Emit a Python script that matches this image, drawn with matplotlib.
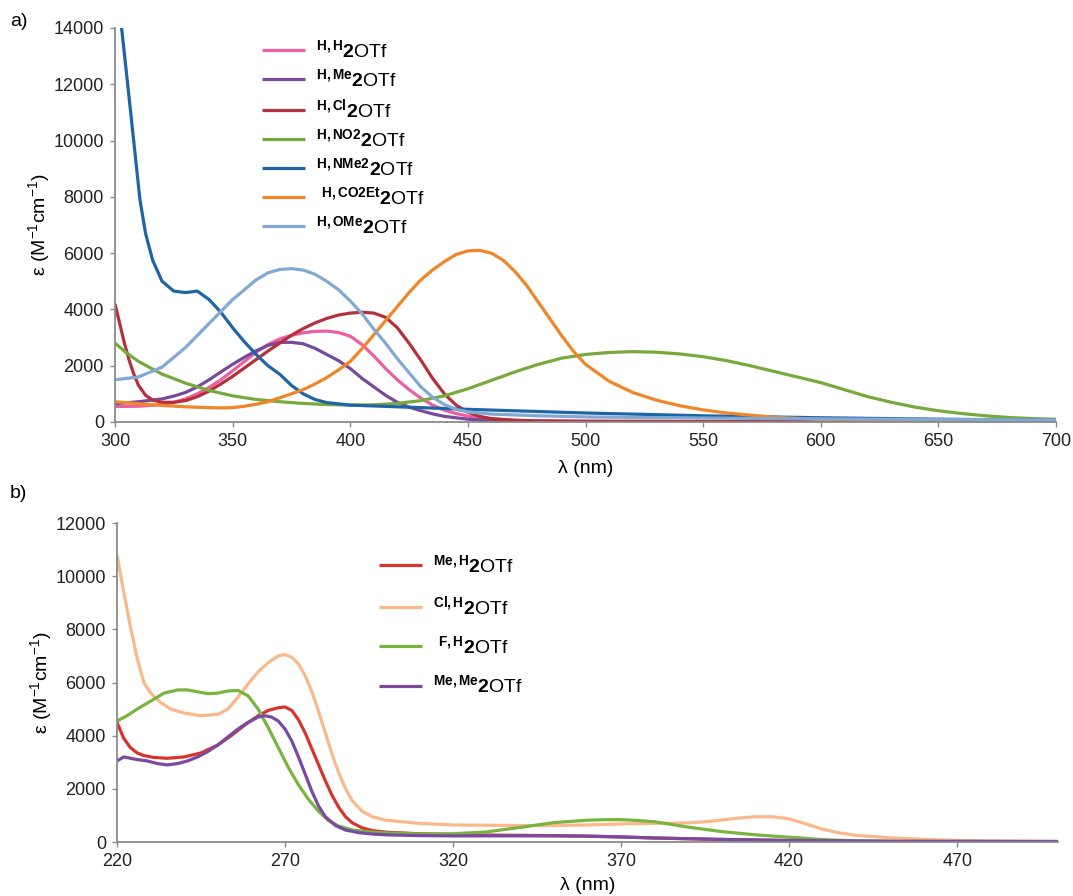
import matplotlib
matplotlib.use("Agg")
import matplotlib.pyplot as plt

plt.rcParams['font.family'] = ['Liberation Sans', 'DejaVu Sans']
plt.rcParams['mathtext.fontset'] = 'custom'
plt.rcParams['mathtext.rm'] = 'Liberation Sans'
plt.rcParams['mathtext.it'] = 'Liberation Sans:italic'
plt.rcParams['mathtext.bf'] = 'Liberation Sans:bold'

# ---- panel a data (wavelength nm, epsilon M-1 cm-1) ----
hh_x = [300, 310, 320, 325, 330, 335, 340, 345, 350, 355, 360, 365, 370, 375, 380, 385, 390, 395,
        400, 405, 410, 415, 420, 425, 430, 435, 440, 445, 450, 460, 470, 480, 500, 550, 600, 700]
hh_y = [550, 560, 620, 700, 820, 1000, 1230, 1500, 1820, 2150, 2480, 2750, 2950, 3080, 3170, 3220, 3230, 3180,
        3050, 2750, 2350, 1900, 1500, 1150, 850, 600, 420, 300, 210, 110, 60, 40, 25, 15, 10, 10]

hme_x = [300, 310, 320, 325, 330, 335, 340, 345, 350, 355, 360, 365, 370, 375, 380, 385, 390, 395,
         400, 405, 410, 415, 420, 425, 430, 435, 440, 450, 460, 480, 500, 600, 700]
hme_y = [650, 720, 820, 920, 1050, 1250, 1500, 1780, 2050, 2300, 2530, 2720, 2830, 2830, 2780, 2620, 2400, 2180,
         1900, 1550, 1250, 950, 700, 530, 400, 290, 200, 100, 50, 20, 10, 5, 5]

hcl_x = [300, 302, 304, 306, 308, 310, 313, 316, 320, 325, 330, 335, 340, 345, 350, 355, 360, 365, 370, 375,
         380, 385, 390, 395, 400, 405, 410, 415, 420, 425, 430, 435, 440, 445, 450, 455, 460, 470, 480, 500,
         550, 600, 700]
hcl_y = [4200, 3500, 2800, 2200, 1700, 1300, 950, 780, 700, 700, 760, 900, 1100, 1350, 1620, 1920, 2220, 2520,
         2800, 3080, 3320, 3520, 3680, 3800, 3870, 3900, 3870, 3720, 3350, 2800, 2200, 1550, 1000, 600, 350, 200,
         120, 60, 40, 25, 15, 10, 10]

hno2_x = [300, 305, 310, 320, 330, 340, 350, 360, 370, 380, 390, 400, 410, 420, 430, 440, 450, 460, 470, 480,
          490, 500, 510, 520, 530, 540, 550, 560, 570, 580, 590, 600, 610, 620, 630, 640, 650, 660, 670, 680,
          690, 700]
hno2_y = [2800, 2450, 2150, 1700, 1380, 1120, 930, 800, 720, 660, 620, 600, 610, 660, 760, 930, 1180, 1480, 1780,
          2050, 2270, 2400, 2470, 2500, 2480, 2420, 2320, 2180, 2000, 1800, 1600, 1400, 1150, 900, 700, 530, 400,
          300, 220, 160, 120, 95]

hnme2_x = [300, 302.8, 305, 308, 310.6, 313, 316, 320, 325, 330, 335, 340, 345, 350, 355, 360, 365, 370, 375,
           380, 385, 390, 400, 420, 450, 500, 550, 600, 650, 700]
hnme2_y = [16000, 14000, 12300, 9950, 7900, 6700, 5750, 5000, 4650, 4600, 4650, 4350, 3900, 3350, 2850,
           2400, 2000, 1700, 1300, 1000, 800, 690, 600, 540, 450, 320, 220, 150, 100, 60]

hco2et_x = [300, 310, 320, 330, 340, 345, 350, 355, 360, 365, 370, 375, 380, 385, 390, 395, 400, 405, 410, 415,
            420, 425, 430, 435, 440, 445, 450, 455, 460, 465, 470, 475, 480, 485, 490, 495, 500, 510, 520, 530,
            540, 550, 560, 580, 600, 650, 700]
hco2et_y = [720, 650, 590, 540, 510, 500, 510, 560, 630, 720, 860, 1000, 1150, 1350, 1580, 1850, 2150, 2600,
            3100, 3600, 4100, 4600, 5050, 5400, 5700, 5950, 6080, 6100, 6000, 5750, 5350, 4850, 4250, 3650, 3050,
            2500, 2050, 1450, 1050, 780, 580, 430, 320, 170, 90, 40, 20]

home_x = [300, 310, 320, 330, 340, 350, 360, 365, 370, 375, 380, 385, 390, 395, 400, 405, 410, 415, 420, 425,
          430, 435, 440, 445, 450, 460, 480, 500, 550, 600, 650, 700]
home_y = [1500, 1600, 1950, 2650, 3500, 4350, 5050, 5300, 5420, 5450, 5400, 5250, 5000, 4700, 4300, 3850, 3300,
          2800, 2250, 1750, 1250, 880, 620, 450, 360, 280, 220, 180, 140, 110, 90, 70]

# ---- panel b data ----
meh_x = [220, 222, 224, 226, 228, 231, 235, 240, 245, 250, 254, 258, 262, 265, 268, 270, 272, 274, 276, 278,
         280, 282, 284, 286, 288, 290, 293, 296, 300, 310, 320, 330, 340, 350, 360, 370, 380, 400, 420, 440,
         460, 500]
meh_y = [4500, 3900, 3550, 3350, 3250, 3180, 3150, 3200, 3350, 3650, 4000, 4400, 4750, 4950, 5050, 5080, 4950,
         4600, 4100, 3500, 2900, 2300, 1750, 1300, 950, 720, 530, 430, 370, 310, 280, 260, 250, 240, 220, 190,
         150, 90, 50, 25, 15, 10]

clh_x = [220, 222, 224, 226, 228, 230, 233, 236, 240, 245, 250, 253, 256, 259, 262, 265, 268, 270, 272, 274,
         276, 278, 280, 282, 284, 286, 288, 290, 293, 296, 300, 310, 320, 330, 340, 350, 360, 370, 380, 390,
         395, 400, 405, 410, 415, 420, 425, 430, 435, 440, 450, 460, 470, 480, 490, 500]
clh_y = [10800, 9400, 8100, 6900, 6000, 5600, 5250, 5000, 4850, 4750, 4800, 5000, 5450, 5950, 6400, 6750, 7000,
         7050, 6950, 6700, 6250, 5650, 4900, 4100, 3300, 2600, 2000, 1550, 1150, 950, 820, 700, 640, 630, 620,
         620, 640, 680, 700, 720, 760, 830, 900, 950, 950, 870, 680, 480, 340, 250, 160, 100, 60, 40, 30, 20]

fh_x = [220, 223, 226, 230, 234, 238, 241, 244, 247, 250, 253, 256, 259, 262, 265, 268, 271, 274, 277, 280,
        283, 286, 290, 295, 300, 310, 320, 330, 340, 350, 360, 365, 370, 375, 380, 390, 400, 410, 420, 430,
        440, 450, 470, 500]
fh_y = [4550, 4750, 5000, 5300, 5600, 5720, 5720, 5650, 5580, 5600, 5680, 5700, 5500, 5000, 4300, 3550, 2800,
        2150, 1600, 1150, 800, 600, 450, 380, 340, 300, 310, 380, 550, 730, 820, 840, 840, 810, 760, 560, 390,
        270, 180, 90, 40, 20, 10, 5]

meme_x = [220, 222, 224, 226, 229, 232, 235, 238, 241, 244, 247, 250, 253, 256, 259, 262, 264, 266, 268, 270,
          272, 274, 276, 278, 280, 282, 285, 288, 292, 296, 300, 310, 320, 330, 340, 350, 360, 370, 380, 400,
          420, 450, 500]
meme_y = [3050, 3200, 3150, 3100, 3050, 2950, 2900, 2950, 3050, 3200, 3400, 3650, 3950, 4250, 4500, 4700, 4750,
          4700, 4550, 4250, 3800, 3200, 2550, 1900, 1350, 950, 620, 450, 350, 300, 270, 240, 230, 230, 230, 230,
          220, 190, 150, 100, 60, 30, 20]

series_a = [
    (hh_x, hh_y, '#ee5fa0', r'$^{\mathbf{H,H}}\mathbf{2}$OTf'),
    (hme_x, hme_y, '#774a9c', r'$^{\mathbf{H,Me}}\mathbf{2}$OTf'),
    (hcl_x, hcl_y, '#b5303a', r'$^{\mathbf{H,Cl}}\mathbf{2}$OTf'),
    (hno2_x, hno2_y, '#76aa3c', r'$^{\mathbf{H,NO2}}\mathbf{2}$OTf'),
    (hnme2_x, hnme2_y, '#1f65a6', r'$^{\mathbf{H,NMe2}}\mathbf{2}$OTf'),
    (hco2et_x, hco2et_y, '#f0852a', r' $^{\mathbf{H,CO2Et}}\mathbf{2}$OTf'),
    (home_x, home_y, '#82a8d4', r'$^{\mathbf{H,OMe}}\mathbf{2}$OTf'),
]
series_b = [
    (meh_x, meh_y, '#d8342e', r'$^{\mathbf{Me,H}}\mathbf{2}$OTf'),
    (clh_x, clh_y, '#fbb98b', r'$^{\mathbf{Cl,H}}\mathbf{2}$OTf'),
    (fh_x, fh_y, '#78b43e', r' $^{\mathbf{F,H}}\mathbf{2}$OTf'),
    (meme_x, meme_y, '#7a4aa2', r'$^{\mathbf{Me,Me}}\mathbf{2}$OTf'),
]

fig = plt.figure(figsize=(10.73, 8.96), dpi=100)
ax_a = fig.add_axes([115/1073, 1 - 422/896, 941/1073, 394/896])
ax_b = fig.add_axes([117/1073, 1 - 842/896, 941/1073, 319/896])


def style(ax):
    for s in ['top', 'right']:
        ax.spines[s].set_visible(False)
    for s in ['left', 'bottom']:
        ax.spines[s].set_color('#8a8a8a')
        ax.spines[s].set_linewidth(1.3)
    ax.tick_params(direction='out', length=3.5, width=1, color='#8a8a8a',
                   labelsize=13, labelcolor='#222222', pad=4.5)
    ax.set_ylabel(r'ε (M$^{-1}$cm$^{-1}$)', fontsize=14, labelpad=1)
    ax.set_xlabel('λ (nm)', fontsize=14, labelpad=7)


for x, y, c, lab in series_a:
    ax_a.plot(x, y, color=c, lw=2.3, label=lab, solid_capstyle='butt')
ax_a.set_xlim(300, 700)
ax_a.set_ylim(0, 14000)
ax_a.set_xticks(range(300, 701, 50))
ax_a.set_yticks(range(0, 14001, 2000))
style(ax_a)
ax_a.legend(frameon=False, loc='upper left', bbox_to_anchor=(0.148, 0.991), fontsize=14,
            handlelength=2.2, handletextpad=0.6, labelspacing=0.36, borderaxespad=0)

for x, y, c, lab in series_b:
    ax_b.plot(x, y, color=c, lw=2.3, label=lab, solid_capstyle='butt')
ax_b.set_xlim(220, 500)
ax_b.set_ylim(0, 12000)
ax_b.set_xticks(range(220, 471, 50))
ax_b.set_yticks(range(0, 12001, 2000))
style(ax_b)
ax_b.xaxis.labelpad = 5
ax_b.legend(frameon=False, loc='upper left', bbox_to_anchor=(0.27, 0.926), fontsize=14,
            handlelength=2.2, handletextpad=0.6, labelspacing=0.9, borderaxespad=0)

fig.text(10/1073, 1 - 21/896, 'a)', fontsize=14, va='center', ha='left')
fig.text(10/1073, 1 - 493/896, 'b)', fontsize=14, va='center', ha='left')

fig.savefig('out.png', dpi=100)
